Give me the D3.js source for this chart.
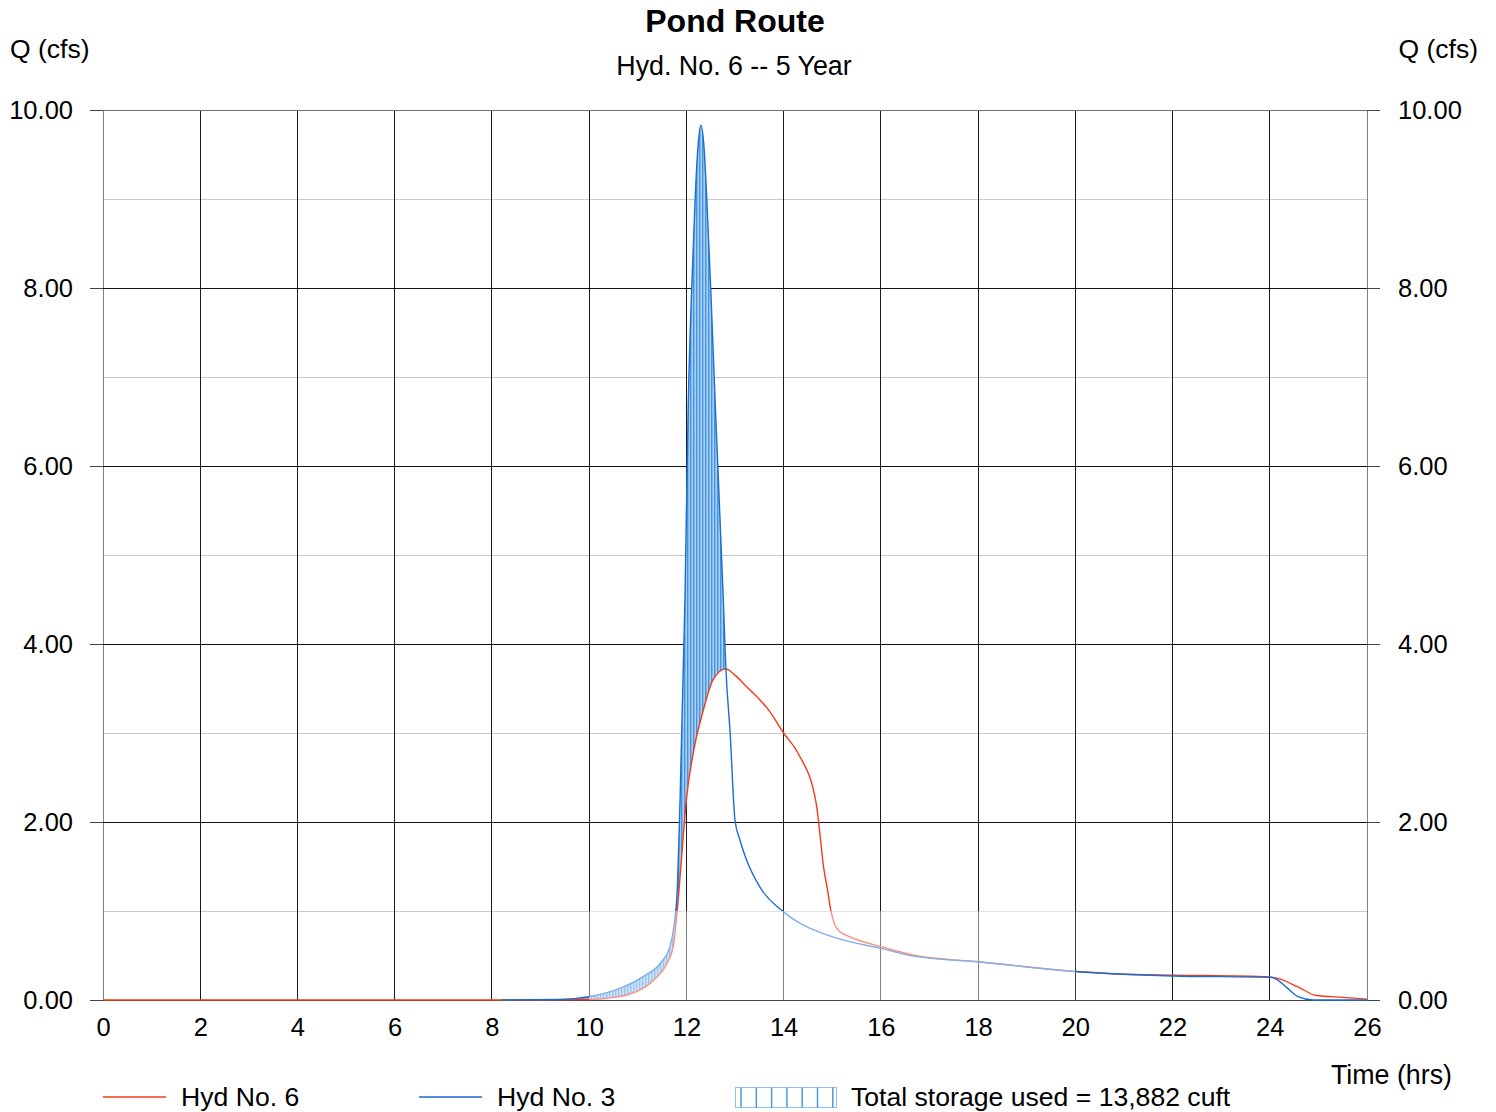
<!DOCTYPE html>
<html>
<head>
<meta charset="utf-8">
<script src="https://cdn.jsdelivr.net/npm/d3@7"></script>
<style>
  body { margin: 0; background: #fff; }
  text { font-family: "Liberation Sans", Arial, sans-serif; fill: #000; }
</style>
</head>
<body>
<svg width="1496" height="1112"></svg>
<script>
// Hyd No. 6 (outflow) - time in hrs, Q in cfs
const outTime = [0, 8.2, 10.0, 10.5, 10.77, 11.0, 11.32, 11.6, 11.73, 11.83, 11.94, 12.0, 12.14, 12.35, 12.55, 12.81, 13.0, 13.24, 13.5, 13.69, 14.0, 14.3, 14.67, 14.75, 14.82, 14.9, 14.97, 15.05, 15.15, 15.28, 15.5, 16.0, 16.7, 18.0, 20.0, 21.0, 22.0, 24.0, 24.18, 24.57, 24.96, 25.5, 26.0]
const outQ = [0, 0, 0.005, 0.03, 0.056, 0.1, 0.22, 0.41, 0.6, 1.12, 1.87, 2.25, 2.77, 3.26, 3.6, 3.72, 3.65, 3.52, 3.38, 3.26, 3.0, 2.77, 2.21, 1.85, 1.5, 1.25, 1.01, 0.85, 0.77, 0.73, 0.68, 0.6, 0.5, 0.43, 0.32, 0.29, 0.28, 0.26, 0.24, 0.15, 0.05, 0.03, 0.01]

// Hyd No. 3 (inflow)
const inTime = [8.2, 9.4, 10.02, 10.63, 11.1, 11.46, 11.66, 11.8, 11.87, 11.97, 12.04, 12.11, 12.18, 12.24, 12.3, 12.36, 12.42, 12.5, 12.59, 12.76, 12.81, 12.9, 13.0, 13.1, 13.24, 13.51, 14.0, 14.34, 14.61, 15.12, 16.0, 16.7, 18.0, 20.0, 22.0, 24.0, 24.15, 24.33, 24.57, 24.89, 26.0]
const inQ = [0, 0.005, 0.04, 0.13, 0.26, 0.41, 0.6, 1.12, 2.25, 4.49, 6.74, 8.0, 9.0, 9.6, 9.83, 9.6, 9.0, 8.0, 6.74, 4.49, 3.75, 3.0, 2.02, 1.8, 1.57, 1.27, 0.99, 0.86, 0.79, 0.69, 0.58, 0.49, 0.43, 0.32, 0.27, 0.255, 0.23, 0.15, 0.04, 0, 0]

const xTicks = d3.range(0, 27, 2)
const yTicks = [0, 2, 4, 6, 8, 10]
const yMinor = [1, 3, 5, 7, 9]

const outData = outTime.map((t, i) => ({ t, q: outQ[i] }))
const inData = inTime.map((t, i) => ({ t, q: inQ[i] }))

const svg = d3.select('svg')

const plotL = 103
const plotR = 1367
const plotT = 110
const plotB = 1000

const x = d3.scaleLinear().domain([0, 26]).range([plotL, plotR])
const y = d3.scaleLinear().domain([0, 10]).range([plotB, plotT])

const red = '#f5391a'
const blue = '#1a6dd3'

// hatch pattern for storage
const defs = svg.append('defs')
const pat = defs.append('pattern')
  .attr('id', 'hatch')
  .attr('patternUnits', 'userSpaceOnUse')
  .attr('width', 3)
  .attr('height', 10)
pat.append('rect').attr('width', 3).attr('height', 10).attr('fill', '#a9cff3')
pat.append('rect').attr('width', 1.4).attr('height', 10).attr('fill', '#4594de')

const curve = d3.curveMonotoneX

defs.append('clipPath').attr('id', 'aboveOut')
  .append('path')
  .attr('d', d3.area().curve(curve)
    .x(d => x(d.t)).y0(plotT).y1(d => y(d.q))(outData))

// grid
const grid = svg.append('g').attr('shape-rendering', 'crispEdges')

grid.selectAll('.minor')
  .data(yMinor)
  .join('line')
  .attr('x1', plotL).attr('x2', plotR)
  .attr('y1', d => y(d)).attr('y2', d => y(d))
  .attr('stroke', '#c9c9c9')

grid.selectAll('.vline')
  .data(xTicks)
  .join('line')
  .attr('x1', d => x(d)).attr('x2', d => x(d))
  .attr('y1', plotT).attr('y2', plotB)
  .attr('stroke', d => (d === 0 || d === 26) ? '#808080' : '#1a1a1a')

grid.selectAll('.major')
  .data(yTicks)
  .join('line')
  .attr('x1', plotL).attr('x2', plotR)
  .attr('y1', d => y(d)).attr('y2', d => y(d))
  .attr('stroke', d => d === 10 ? '#707070' : (d === 0 ? '#444' : '#111'))

// storage area
svg.append('path')
  .attr('clip-path', 'url(#aboveOut)')
  .attr('fill', 'url(#hatch)')
  .attr('d', d3.area().curve(curve)
    .x(d => x(d.t)).y0(plotB).y1(d => y(d.q))(inData))

const line = d3.line().curve(curve).x(d => x(d.t)).y(d => y(d.q))

svg.append('path')
  .attr('d', line(outData))
  .attr('fill', 'none')
  .attr('stroke', red)
  .attr('stroke-width', 1.4)

svg.append('path')
  .attr('d', line(inData))
  .attr('fill', 'none')
  .attr('stroke', blue)
  .attr('stroke-width', 1.4)

// faded block in the original render
svg.append('rect')
  .attr('x', x(10)).attr('y', y(1))
  .attr('width', x(20) - x(10)).attr('height', y(0) - y(1))
  .attr('fill', '#fff')
  .attr('opacity', 0.45)

// axes
const yLeft = d3.axisLeft(y).tickValues(yTicks).tickFormat(d3.format('.2f')).tickSize(13).tickPadding(17)
const yRight = d3.axisRight(y).tickValues(yTicks).tickFormat(d3.format('.2f')).tickSize(13).tickPadding(18)
const xAxis = d3.axisBottom(x).tickValues(xTicks).tickSize(0).tickPadding(18)

const styleAxis = g => {
  g.select('.domain').remove()
  g.selectAll('line').attr('stroke', '#444').attr('shape-rendering', 'crispEdges')
  g.selectAll('text').attr('font-size', 25.5).attr('fill', '#000')
}

svg.append('g').attr('transform', `translate(${plotL},0)`).call(yLeft).call(styleAxis)
svg.append('g').attr('transform', `translate(${plotR},0)`).call(yRight).call(styleAxis)
svg.append('g').attr('transform', `translate(0,${plotB})`).call(xAxis).call(styleAxis)

// titles
svg.append('text')
  .attr('x', 735).attr('y', 32)
  .attr('text-anchor', 'middle')
  .attr('font-size', 32)
  .attr('font-weight', 'bold')
  .text('Pond Route')

svg.append('text')
  .attr('x', 734).attr('y', 75)
  .attr('text-anchor', 'middle')
  .attr('font-size', 26.8)
  .text('Hyd. No. 6 -- 5 Year')

svg.append('text')
  .attr('x', 10).attr('y', 58)
  .attr('font-size', 26.5)
  .text('Q (cfs)')

svg.append('text')
  .attr('x', 1478).attr('y', 58)
  .attr('text-anchor', 'end')
  .attr('font-size', 26.5)
  .text('Q (cfs)')

svg.append('text')
  .attr('x', 1452).attr('y', 1084)
  .attr('text-anchor', 'end')
  .attr('font-size', 26.8)
  .text('Time (hrs)')

// legend
const legend = svg.append('g')
const legY = 1097

legend.append('line')
  .attr('x1', 103).attr('x2', 166).attr('y1', legY).attr('y2', legY)
  .attr('stroke', red).attr('stroke-width', 1.4)
legend.append('text')
  .attr('x', 181).attr('y', 1106).attr('font-size', 26.6)
  .text('Hyd No. 6')

legend.append('line')
  .attr('x1', 419).attr('x2', 482).attr('y1', legY).attr('y2', legY)
  .attr('stroke', blue).attr('stroke-width', 1.4)
legend.append('text')
  .attr('x', 497).attr('y', 1106).attr('font-size', 26.6)
  .text('Hyd No. 3')

legend.append('rect')
  .attr('x', 735.5).attr('y', 1087.5)
  .attr('width', 101).attr('height', 20)
  .attr('fill', '#fff')
  .attr('stroke', '#8fc0ee')

legend.selectAll('.sw')
  .data(d3.range(7))
  .join('line')
  .attr('x1', d => 741 + d * 15.3).attr('x2', d => 741 + d * 15.3)
  .attr('y1', 1087.5).attr('y2', 1107.5)
  .attr('stroke', '#4b98e0')
  .attr('stroke-width', 1.5)

legend.append('text')
  .attr('x', 851).attr('y', 1106).attr('font-size', 26.6)
  .text('Total storage used = 13,882 cuft')
</script>
</body>
</html>
